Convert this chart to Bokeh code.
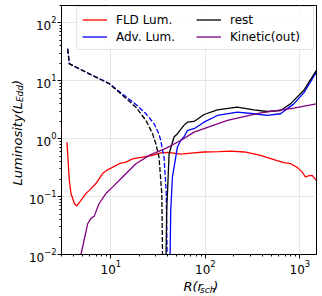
import math
from bokeh.plotting import figure
from bokeh.layouts import row, column
from bokeh.models import Legend, LegendItem, Range1d, Label
from bokeh.embed import file_html
from bokeh.resources import INLINE

# Radius in Schwarzschild radii; luminosity in Eddington units
r_fld = [3.43, 3.5, 3.63, 3.78, 4.1, 4.34, 4.82, 5.44, 5.9, 6.94, 8.17, 9.2, 10.4, 12.2,
         14.4, 17.0, 21.6, 27.6, 33.7, 40.0, 54.8, 75.0, 96.7, 140, 185, 260, 384, 500,
         677, 800, 937, 1050, 1150, 1250, 1350, 1490]
L_fld = [0.87, 0.5, 0.19, 0.113, 0.076, 0.069, 0.086, 0.113, 0.128, 0.168, 0.25, 0.29,
         0.32, 0.37, 0.395, 0.45, 0.48, 0.515, 0.57, 0.58, 0.54, 0.57, 0.59, 0.6, 0.61,
         0.59, 0.515, 0.45, 0.386, 0.37, 0.32, 0.27, 0.218, 0.23, 0.233, 0.19]

# Signed: negative = inward (drawn dashed as |L|), positive = outward (solid)
r_adv = [3.49, 3.63, 5.9, 7.5, 9.6, 13.3, 18.4, 23.5, 28.7, 32.3, 33.7, 36.5, 38.5,
         39.7, 42.0, 43.0, 44.8, 50.6, 54.8, 59.3, 64.6, 75.9, 96.7, 134, 218, 326,
         451, 624, 862, 1100, 1490]
L_adv = [-36.0, -19.8, -13.2, -11.0, -9.0, -5.9, -3.9, -2.7, -1.81, -1.2, -0.93, -0.48,
         -0.12, -0.004, 0.004, 0.058, 0.218, 0.72, 0.93, 1.07, 1.39, 1.49, 1.93, 2.52,
         2.88, 2.7, 2.52, 2.7, 4.0, 6.2, 14.0]

r_rest = [3.49, 3.63, 5.9, 7.5, 9.6, 13.3, 18.4, 23.5, 27.6, 30.0, 32.3, 34.6, 35.4,
          38.0, 39.0, 41.3, 46.6, 50.6, 59.3, 64.6, 75.9, 96.7, 134, 218, 326, 451,
          624, 795, 1097, 1490]
L_rest = [-35.6, -19.6, -13.2, -10.9, -8.9, -5.6, -3.5, -2.07, -1.22, -0.8, -0.48, -0.11,
          -0.004, 0.004, 0.058, 0.55, 1.07, 1.22, 1.7, 1.93, 1.99, 2.62, 3.16, 3.5, 3.16,
          2.95, 3.07, 4.0, 6.8, 15.0]

r_kin = [4.7, 4.82, 5.68, 6.15, 6.66, 7.5, 8.85, 10.4, 13.3, 18.4, 25.4, 38.0, 54.8,
         75.9, 171, 384, 862, 1490]
L_kin = [0.008, 0.01, 0.034, 0.042, 0.046, 0.076, 0.113, 0.146, 0.218, 0.37, 0.515,
         0.68, 0.93, 1.3, 2.07, 2.8, 3.37, 4.0]

series_labels = ["FLD Lum.", "Adv. Lum.", "rest", "Kinetic(out)"]
x_label = ["R(r", "sch", ")"]
y_label = ["Luminosity(L", "Edd", ")"]

x_lo, x_hi = 3.0, 1500.0
y_lo, y_hi = 1e-2, 200.0

FONT = "DejaVu Sans"
LFS, SFS = 13, 9
PAGE_W, PAGE_H = 322, 296


def split(r, L):
    neg_r = [ri for ri, li in zip(r, L) if li < 0]
    neg_L = [-li for li in L if li < 0]
    pos_r = [ri for ri, li in zip(r, L) if li > 0]
    pos_L = [li for li in L if li > 0]
    return neg_r, neg_L, pos_r, pos_L


YW = 25          # width of the y-label strip
MW = PAGE_W - YW
MH = 276         # main plot height
XH = PAGE_H - MH # height of the x-label strip

# ---------------- main plot ----------------
p = figure(width=MW, height=MH, x_axis_type="log", y_axis_type="log",
           x_range=Range1d(x_lo, x_hi), y_range=Range1d(y_lo, y_hi),
           output_backend="svg", toolbar_location=None,
           min_border_left=60 - YW, min_border_right=6, min_border_top=5,
           min_border_bottom=MH - 254)

p.outline_line_color = "black"
p.outline_line_width = 1
p.outline_line_alpha = 1
p.background_fill_color = "white"
p.border_fill_color = "white"

for ax in (p.xaxis[0], p.yaxis[0]):
    ax.major_label_text_font = FONT
    ax.major_label_text_font_size = "12px"
    ax.major_label_text_color = "black"
    ax.major_tick_out = 4
    ax.major_tick_in = 0
    ax.minor_tick_out = 2
    ax.minor_tick_in = 0
    ax.major_label_standoff = 1
    ax.axis_line_color = "black"
    ax.major_tick_line_color = "black"
    ax.minor_tick_line_color = "black"

p.xgrid.grid_line_color = "#e5e5e5"
p.ygrid.grid_line_color = "#e5e5e5"

LW = 1.3
DASH = "5 2"

red = p.line(r_fld, L_fld, line_color="#ff0000", line_width=LW)

an_r, an_L, ap_r, ap_L = split(r_adv, L_adv)
rn_r, rn_L, rp_r, rp_L = split(r_rest, L_rest)

p.line(an_r, an_L, line_color="#0000ff", line_width=LW, line_dash=DASH)
blue = p.line(ap_r, ap_L, line_color="#0000ff", line_width=LW)
p.line(rn_r, rn_L, line_color="black", line_width=LW, line_dash=DASH)
black = p.line(rp_r, rp_L, line_color="black", line_width=LW)
purple = p.line(r_kin, L_kin, line_color="#800080", line_width=LW)

legend = Legend(items=[LegendItem(label=series_labels[0], renderers=[red]),
                       LegendItem(label=series_labels[1], renderers=[blue]),
                       LegendItem(label=series_labels[2], renderers=[black]),
                       LegendItem(label=series_labels[3], renderers=[purple])],
                ncols=2, location=(15, 204))
legend.label_text_font = FONT
legend.label_text_font_size = "12px"
legend.label_text_color = "black"
legend.glyph_width = 25
legend.glyph_height = 15
legend.label_height = 15
legend.label_width = 78
legend.label_standoff = 9
legend.padding = 5
legend.spacing = 2
legend.margin = 0
legend.border_line_color = "#cccccc"
legend.background_fill_alpha = 0.8
p.add_layout(legend, "center")


# ---------------- axis-label strips ----------------
def strip(w, h):
    f = figure(width=w, height=h, x_range=Range1d(0, w), y_range=Range1d(0, h),
               output_backend="svg", toolbar_location=None,
               x_axis_location=None, y_axis_location=None,
               min_border=0, min_border_left=0, min_border_right=0,
               min_border_top=0, min_border_bottom=0)
    f.outline_line_color = None
    f.xgrid.visible = False
    f.ygrid.visible = False
    f.background_fill_color = "white"
    f.border_fill_color = "white"
    return f


def piece(f, x, y, text, size, angle=0.0):
    f.add_layout(Label(x=x, y=y, text=text, angle=angle, text_font=FONT,
                       text_font_style="italic", text_font_size=f"{size}px",
                       text_color="black", text_baseline="alphabetic",
                       text_align="left"))


# y label, rotated: positions given in page pixels (x from left, y from top)
ylab = strip(YW, MH)
piece(ylab, 17, MH - 185, y_label[0], LFS, math.pi / 2)
piece(ylab, 19.5, MH - 101.6, y_label[1], SFS, math.pi / 2)
piece(ylab, 17, MH - 84.5, y_label[2], LFS, math.pi / 2)

# x label
xlab = strip(MW, XH)
piece(xlab, 167 - YW, PAGE_H - 286, x_label[0], LFS)
piece(xlab, 186.4 - YW, PAGE_H - 289, x_label[1], SFS)
piece(xlab, 201.7 - YW, PAGE_H - 286, x_label[2], LFS)

layout = row(column(ylab, strip(YW, XH)), column(p, xlab))

open("out.html", "w").write(file_html(layout, INLINE))
